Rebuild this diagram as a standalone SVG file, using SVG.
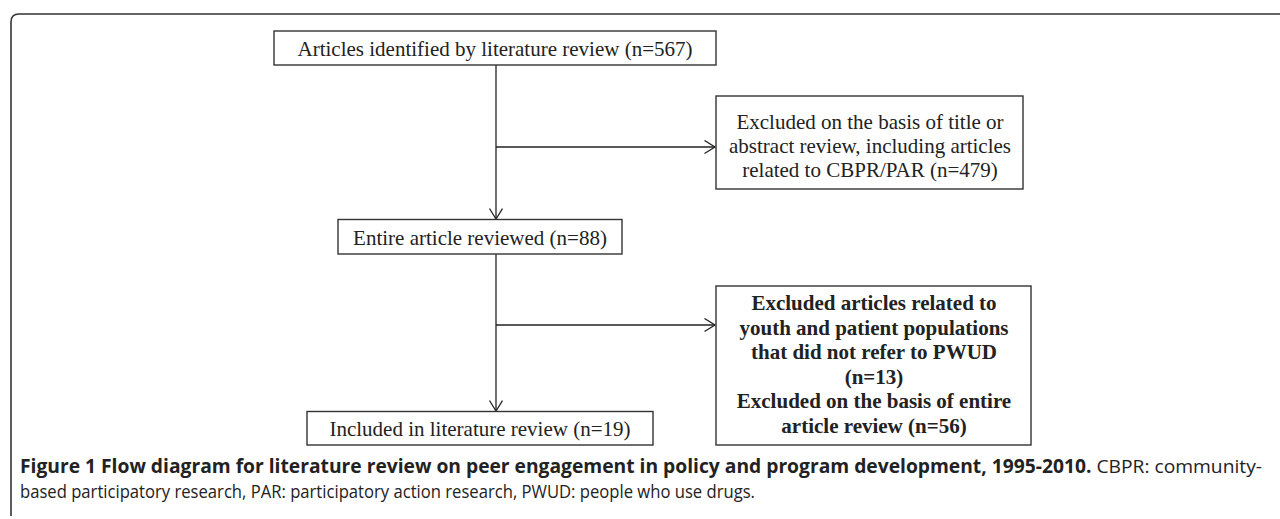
<svg xmlns="http://www.w3.org/2000/svg" width="1280" height="519" viewBox="0 0 1280 519">
<defs>
<marker id="arr" markerUnits="userSpaceOnUse" markerWidth="14" markerHeight="16" refX="11" refY="7" orient="auto" viewBox="0 0 14 16">
<path d="M0.5 0.5 L11 7 L0.5 13.5" fill="none" stroke="#222" stroke-width="1.3"/>
</marker>
<style>
.box{fill:#fff;stroke:#333;stroke-width:1.4}
.t{font-family:"Liberation Serif","Times New Roman",serif;font-size:21px;fill:#222;text-anchor:middle}
.b{font-weight:bold}
.c{fill:none;stroke:#222;stroke-width:1.3}
.cap{font-family:"Open Sans","Liberation Sans",sans-serif;font-size:19px;fill:#222}
</style>
</defs>
<rect x="0" y="0" width="1280" height="519" fill="#fff"/>
<path d="M11 516 L11 22 Q11 14 19 14 L1280 14" fill="none" stroke="#333" stroke-width="1.6"/>

<g id="connectors">
<line class="c" x1="496" y1="65" x2="496" y2="219" marker-end="url(#arr)"/>
<line class="c" x1="496" y1="147" x2="715" y2="147" marker-end="url(#arr)"/>
<line class="c" x1="496" y1="254" x2="496" y2="411" marker-end="url(#arr)"/>
<line class="c" x1="496" y1="325" x2="715" y2="325" marker-end="url(#arr)"/>
</g>

<g id="n1">
<rect class="box" x="274" y="31" width="442" height="34"/>
<text class="t" x="495" y="56">Articles identified by literature review (n=567)</text>
</g>
<g id="n2">
<rect class="box" x="716" y="96" width="307" height="93"/>
<text class="t" x="870" y="129">Excluded on the basis of title or</text>
<text class="t" x="870" y="153">abstract review, including articles</text>
<text class="t" x="870" y="177">related to CBPR/PAR  (n=479)</text>
</g>
<g id="n3">
<rect class="box" x="338" y="219.5" width="284" height="34.5"/>
<text class="t" x="480" y="245">Entire article reviewed (n=88)</text>
</g>
<g id="n4">
<rect class="box" x="716" y="286" width="315" height="159"/>
<text class="t b" x="874" y="310">Excluded articles related to</text>
<text class="t b" x="874" y="334.5">youth and patient populations</text>
<text class="t b" x="874" y="359">that did not refer to PWUD</text>
<text class="t b" x="874" y="383.5">(n=13)</text>
<text class="t b" x="874" y="408">Excluded on the basis of entire</text>
<text class="t b" x="874" y="432.5">article review (n=56)</text>
</g>
<g id="n5">
<rect class="box" x="307" y="411.5" width="346" height="33.5"/>
<text class="t" x="480" y="436">Included in literature review (n=19)</text>
</g>

<g id="caption">
<text class="cap" x="20" y="473" textLength="1242" lengthAdjust="spacingAndGlyphs"><tspan font-weight="bold">Figure 1 Flow diagram for literature review on peer engagement in policy and program development, 1995-2010.</tspan> CBPR: community-</text>
<text class="cap" x="20" y="498" textLength="735" lengthAdjust="spacingAndGlyphs">based participatory research, PAR: participatory action research, PWUD: people who use drugs.</text>
</g>
</svg>
